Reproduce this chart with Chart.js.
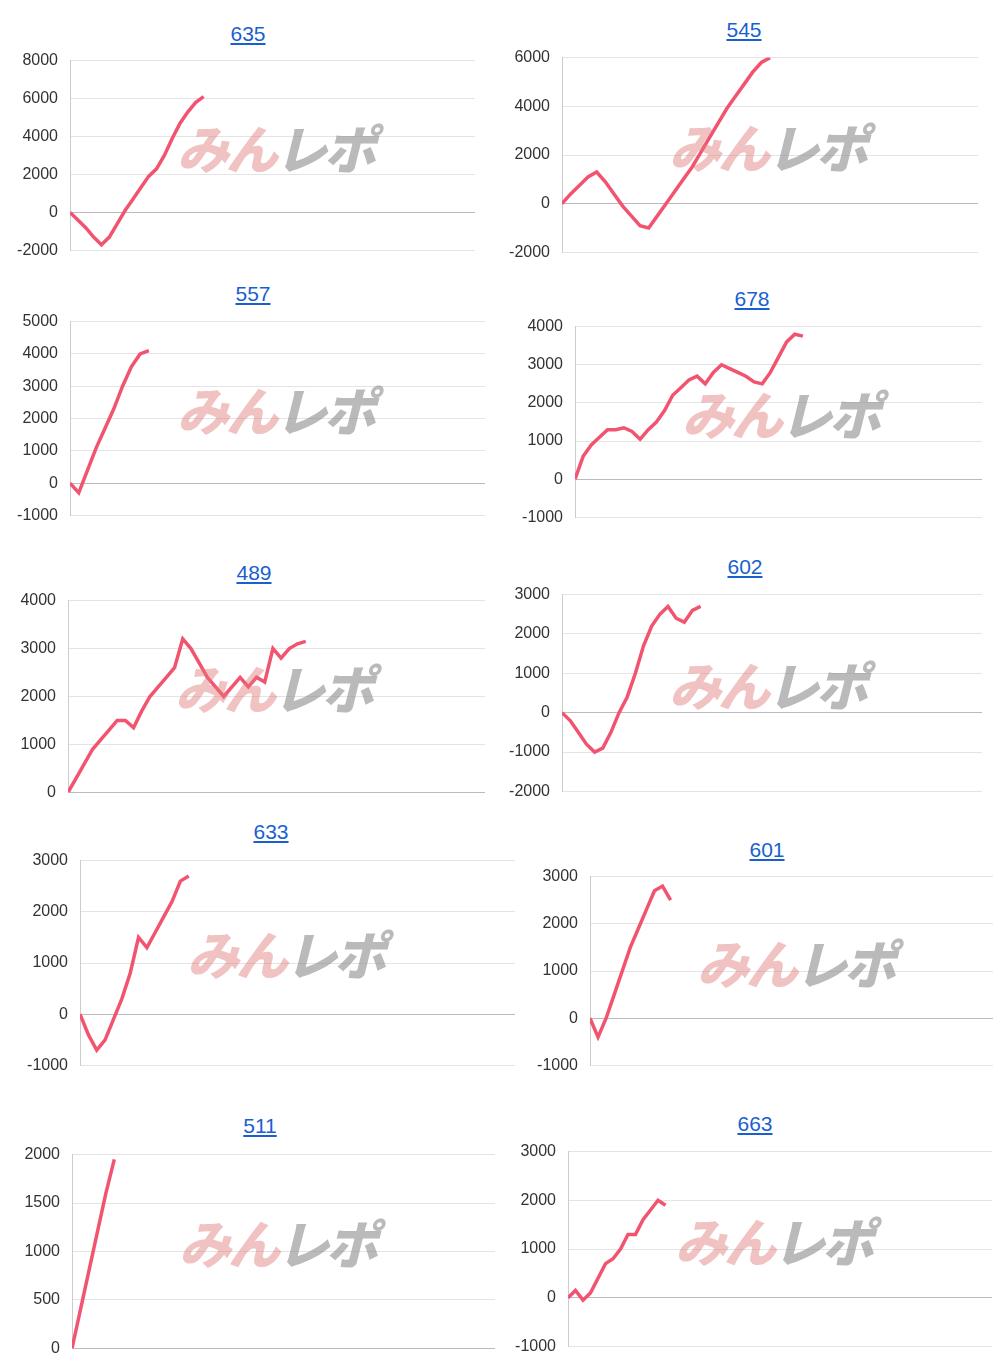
<!DOCTYPE html>
<html>
<head>
<meta charset="utf-8">
<script src="https://cdn.jsdelivr.net/npm/chart.js@4"></script>
<style>
  body { margin: 0; background: #fff; font-family: "Liberation Sans", Arial, sans-serif; }
  #page { position: relative; width: 1000px; height: 1368px; overflow: hidden; }
  .title { position: absolute; color: #1a5fd0; text-decoration: underline; font-size: 21px; transform: translateX(-50%); }
  .panel { position: absolute; }
  .mark { position: absolute; font: italic 900 52px "Noto Sans CJK JP", sans-serif; transform: translate(-50%, -50%); white-space: nowrap; letter-spacing: -3px; }
  .mark .a { color: rgba(225, 120, 120, 0.45); }
  .mark .b { color: rgba(140, 140, 140, 0.6); }
</style>
</head>
<body>
<div id="page"></div>
<script>
const titles = ["635", "545", "557", "678", "489", "602", "633", "601", "511", "663"];

const series = [
  [0, -400, -800, -1300, -1700, -1300, -600, 100, 700, 1300, 1900, 2300, 3000, 3900, 4700, 5300, 5800, 6100],
  [0, 400, 750, 1100, 1300, 900, 400, -100, -500, -900, -1000, -500, 0, 500, 1000, 1500, 2100, 2700, 3300, 3900, 4400, 4900, 5400, 5800, 6000],
  [0, -300, 400, 1100, 1700, 2300, 3000, 3600, 4000, 4100],
  [0, 600, 900, 1100, 1300, 1300, 1350, 1250, 1050, 1300, 1500, 1800, 2200, 2400, 2600, 2700, 2500, 2800, 3000, 2900, 2800, 2700, 2550, 2500, 2800, 3200, 3600, 3800, 3750],
  [0, 300, 600, 900, 1100, 1300, 1500, 1500, 1350, 1700, 2000, 2200, 2400, 2600, 3200, 3000, 2700, 2400, 2200, 2000, 2200, 2400, 2200, 2400, 2300, 3000, 2800, 3000, 3100, 3150],
  [0, -200, -500, -800, -1000, -900, -500, 0, 400, 1000, 1700, 2200, 2500, 2700, 2400, 2300, 2600, 2700],
  [0, -400, -700, -500, -100, 300, 800, 1500, 1300, 1600, 1900, 2200, 2600, 2700],
  [0, -400, 0, 500, 1000, 1500, 1900, 2300, 2700, 2800, 2500],
  [0, 400, 800, 1200, 1600, 1950],
  [0, 150, -50, 100, 400, 700, 800, 1000, 1300, 1300, 1600, 1800, 2000, 1900]
];

// fraction of the plot width the line covers
const spans = [0.33, 0.5, 0.19, 0.56, 0.57, 0.33, 0.25, 0.2, 0.1, 0.23];
const yMins = [-2000, -2000, -1000, -1000, 0, -2000, -1000, -1000, 0, -1000];
const yMaxs = [8000, 6000, 5000, 4000, 4000, 3000, 3000, 3000, 2000, 3000];
const ySteps = [2000, 2000, 1000, 1000, 1000, 1000, 1000, 1000, 500, 1000];

// [gridTop, gridBottom, plotLeft, plotRight, titleY, titleX]
const boxes = [
  [60, 250, 70, 475, 22, 248],
  [57, 252, 562, 978, 18, 744],
  [321, 515, 70, 485, 282, 253],
  [326, 517, 575, 982, 287, 752],
  [600, 792, 68, 485, 561, 254],
  [594, 791, 562, 982, 555, 745],
  [860, 1065, 80, 515, 820, 271],
  [876, 1065, 590, 993, 838, 767],
  [1154, 1348, 72, 495, 1114, 260],
  [1151, 1346, 568, 992, 1112, 755]
];

const page = document.getElementById("page");

titles.forEach((t, i) => {
  const [top, bottom, left, right, ty, tx] = boxes[i];
  const colStart = i % 2 === 0 ? 0 : 490;

  const title = document.createElement("div");
  title.className = "title";
  title.style.left = tx + "px";
  title.style.top = ty + "px";
  title.textContent = t;
  page.appendChild(title);

  const panel = document.createElement("div");
  panel.className = "panel";
  panel.style.left = colStart + "px";
  panel.style.top = (top - 21) + "px";
  panel.style.width = (right - colStart) + "px";
  panel.style.height = (bottom - top + 43) + "px";
  const canvas = document.createElement("canvas");
  panel.appendChild(canvas);
  page.appendChild(panel);

  const mark = document.createElement("div");
  mark.className = "mark";
  mark.style.left = (left + 205) + "px";
  mark.style.top = (top + (bottom - top) * 0.45) + "px";
  mark.innerHTML = '<span class="a">みん</span><span class="b">レポ</span>';
  page.appendChild(mark);

  const vals = series[i];
  const xMax = (vals.length - 1) / spans[i];
  const yAxisWidth = left - colStart;

  new Chart(canvas, {
    type: "line",
    data: {
      datasets: [{
        data: vals.map((v, k) => ({ x: k, y: v })),
        borderColor: "#f25470",
        borderWidth: 3.5,
        pointRadius: 0,
        tension: 0
      }]
    },
    options: {
      responsive: true,
      maintainAspectRatio: false,
      animation: false,
      layout: { padding: 0 },
      plugins: { legend: { display: false }, tooltip: { enabled: false } },
      scales: {
        x: { type: "linear", min: 0, max: xMax, display: false },
        y: {
          min: yMins[i],
          max: yMaxs[i],
          afterFit: (scale) => { scale.width = yAxisWidth; },
          ticks: {
            stepSize: ySteps[i], color: "#333", padding: 12,
            font: { size: 16, family: "Liberation Sans" },
            callback: (v) => String(v)
          },
          grid: {
            color: (c) => (c.tick && c.tick.value === 0 ? "#bbb" : "#e4e4e4"),
            drawTicks: false
          },
          border: { color: "#ccc" }
        }
      }
    }
  });
});
</script>
</body>
</html>
